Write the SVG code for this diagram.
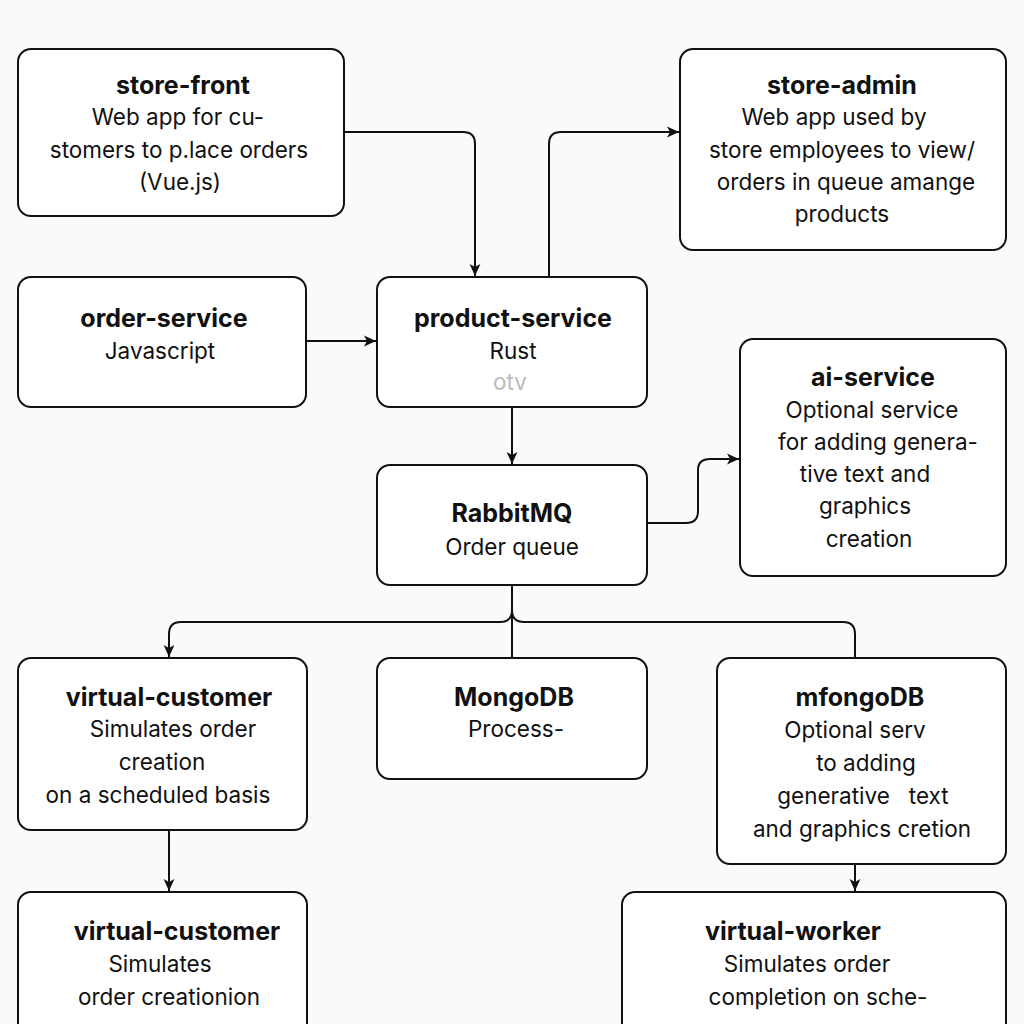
<svg xmlns="http://www.w3.org/2000/svg" width="1024" height="1024" viewBox="0 0 1024 1024">
<defs>
<marker id="arr" viewBox="0 0 10 10" refX="10" refY="5" markerWidth="12" markerHeight="12" orient="auto-start-reverse" markerUnits="userSpaceOnUse">
<path d="M0,0.5 L10,5 L0,9.5 L2.5,5 z" fill="#111"/>
</marker>
<style>
.box{fill:#fff;stroke:#111;stroke-width:2}
.t{font-family:Inter,"Liberation Sans",sans-serif;font-weight:700;font-size:25px;fill:#111;text-anchor:middle}
.b{font-family:Inter,"Liberation Sans",sans-serif;font-size:22.5px;fill:#111;text-anchor:middle;white-space:pre}
.c{fill:none;stroke:#111;stroke-width:2}
.f{fill:#bbb}
</style>
</defs>
<rect width="1024" height="1024" fill="#fafafa"/>
<g id="connectors">
<path class="c" d="M344,132 H463 Q475,132 475,144 V276" marker-end="url(#arr)"/>
<path class="c" d="M549,277 V144 Q549,132 561,132 H679" marker-end="url(#arr)"/>
<path class="c" d="M306,341 H376" marker-end="url(#arr)"/>
<path class="c" d="M512,407 V464" marker-end="url(#arr)"/>
<path class="c" d="M648,523 H686 Q698,523 698,511 V470 Q698,459 710,459 H739" marker-end="url(#arr)"/>
<path class="c" d="M512,585 V658"/>
<path class="c" d="M512,610 Q512,622 500,622 H181 Q169,622 169,634 V657" marker-end="url(#arr)"/>
<path class="c" d="M512,610 Q512,622 524,622 H843 Q855,622 855,634 V658"/>
<path class="c" d="M169,830 V891" marker-end="url(#arr)"/>
<path class="c" d="M855,864 V891" marker-end="url(#arr)"/>
</g>
<g id="store-front">
<rect class="box" x="18" y="49" width="326" height="167" rx="13"/>
<text class="t" x="183" y="94">store-front</text>
<text class="b" x="178" y="125">Web app for cu-</text>
<text class="b" x="179" y="158">stomers to p.lace orders</text>
<text class="b" x="180" y="190">(Vue.js)</text>
</g>
<g id="store-admin">
<rect class="box" x="680" y="49" width="326" height="201" rx="13"/>
<text class="t" x="842" y="94">store-admin</text>
<text class="b" x="834" y="125">Web app used by</text>
<text class="b" x="842" y="158">store employees to view/</text>
<text class="b" x="846" y="190">orders in queue amange</text>
<text class="b" x="842" y="222">products</text>
</g>
<g id="order-service">
<rect class="box" x="18" y="277" width="288" height="130" rx="13"/>
<text class="t" x="164" y="327">order-service</text>
<text class="b" x="160" y="359">Javascript</text>
</g>
<g id="product-service">
<rect class="box" x="377" y="277" width="270" height="130" rx="13"/>
<text class="t" x="513" y="327">product-service</text>
<text class="b" x="513" y="359">Rust</text>
<text class="b f" x="510" y="390">otv</text>
</g>
<g id="ai-service">
<rect class="box" x="740" y="339" width="266" height="237" rx="13"/>
<text class="t" x="873" y="386">ai-service</text>
<text class="b" x="872" y="418">Optional service</text>
<text class="b" x="878" y="450">for adding genera-</text>
<text class="b" x="865" y="482">tive text and</text>
<text class="b" x="865" y="514">graphics</text>
<text class="b" x="869" y="547">creation</text>
</g>
<g id="rabbitmq">
<rect class="box" x="377" y="465" width="270" height="120" rx="13"/>
<text class="t" x="512" y="522">RabbitMQ</text>
<text class="b" x="512" y="555">Order queue</text>
</g>
<g id="virtual-customer">
<rect class="box" x="18" y="658" width="289" height="172" rx="13"/>
<text class="t" x="169" y="706">virtual-customer</text>
<text class="b" x="173" y="737">Simulates order</text>
<text class="b" x="162" y="770">creation</text>
<text class="b" x="158" y="803">on a scheduled basis</text>
</g>
<g id="mongodb">
<rect class="box" x="377" y="658" width="270" height="121" rx="13"/>
<text class="t" x="514" y="706">MongoDB</text>
<text class="b" x="516" y="737">Process-</text>
</g>
<g id="mfongodb">
<rect class="box" x="717" y="658" width="289" height="206" rx="13"/>
<text class="t" x="860" y="706">mfongoDB</text>
<text class="b" x="855" y="738">Optional serv</text>
<text class="b" x="866" y="771">to adding</text>
<text class="b" x="863" y="804">generative   text</text>
<text class="b" x="862" y="837">and graphics cretion</text>
</g>
<g id="virtual-customer-2">
<rect class="box" x="18" y="892" width="289" height="150" rx="13"/>
<text class="t" x="177" y="940">virtual-customer</text>
<text class="b" x="160" y="972">Simulates</text>
<text class="b" x="169" y="1005">order creationion</text>
</g>
<g id="virtual-worker">
<rect class="box" x="622" y="892" width="384" height="150" rx="13"/>
<text class="t" x="793" y="940">virtual-worker</text>
<text class="b" x="807" y="972">Simulates order</text>
<text class="b" x="818" y="1005">completion on sche-</text>
</g>
</svg>
